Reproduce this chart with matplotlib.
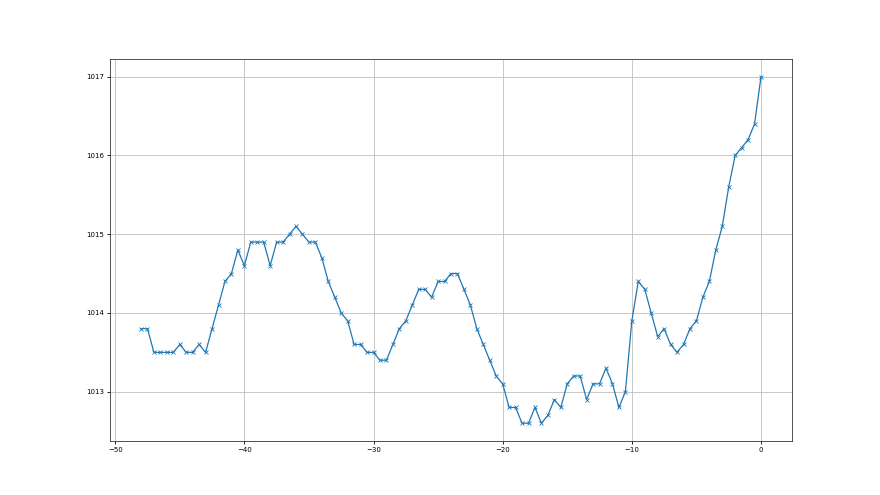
import matplotlib
matplotlib.use('Agg')
import matplotlib.pyplot as plt

# hours relative to now, 0.5 h steps
hours = [i * 0.5 - 48 for i in range(97)]

pressure = [
    1013.8, 1013.8, 1013.5, 1013.5, 1013.5, 1013.5, 1013.6, 1013.5, 1013.5, 1013.6,
    1013.5, 1013.8, 1014.1, 1014.4, 1014.5, 1014.8, 1014.6, 1014.9, 1014.9, 1014.9,
    1014.6, 1014.9, 1014.9, 1015.0, 1015.1, 1015.0, 1014.9, 1014.9, 1014.7, 1014.4,
    1014.2, 1014.0, 1013.9, 1013.6, 1013.6, 1013.5, 1013.5, 1013.4, 1013.4, 1013.6,
    1013.8, 1013.9, 1014.1, 1014.3, 1014.3, 1014.2, 1014.4, 1014.4, 1014.5, 1014.5,
    1014.3, 1014.1, 1013.8, 1013.6, 1013.4, 1013.2, 1013.1, 1012.8, 1012.8, 1012.6,
    1012.6, 1012.8, 1012.6, 1012.7, 1012.9, 1012.8, 1013.1, 1013.2, 1013.2, 1012.9,
    1013.1, 1013.1, 1013.3, 1013.1, 1012.8, 1013.0, 1013.9, 1014.4, 1014.3, 1014.0,
    1013.7, 1013.8, 1013.6, 1013.5, 1013.6, 1013.8, 1013.9, 1014.2, 1014.4, 1014.8,
    1015.1, 1015.6, 1016.0, 1016.1, 1016.2, 1016.4, 1017.0,
]

plt.rcParams['font.size'] = 5
plt.rcParams['axes.linewidth'] = 0.6

fig = plt.figure(figsize=(8.8, 4.95), dpi=100)
ax = fig.add_subplot(111)

ax.plot(hours, pressure, marker='x', color='#1f77b4', linewidth=0.9, markersize=3, markeredgewidth=0.6)

ax.grid(True, color='#c0c0c0', linewidth=0.6)
ax.set_axisbelow(True)
ax.tick_params(length=2.5, width=0.6, labelsize=5, pad=2)
ax.ticklabel_format(axis='y', useOffset=False)
ax.set_yticks([1013, 1014, 1015, 1016, 1017])
for s in ax.spines.values():
    s.set_color('#333333')

fig.savefig('out.png', dpi=100)
